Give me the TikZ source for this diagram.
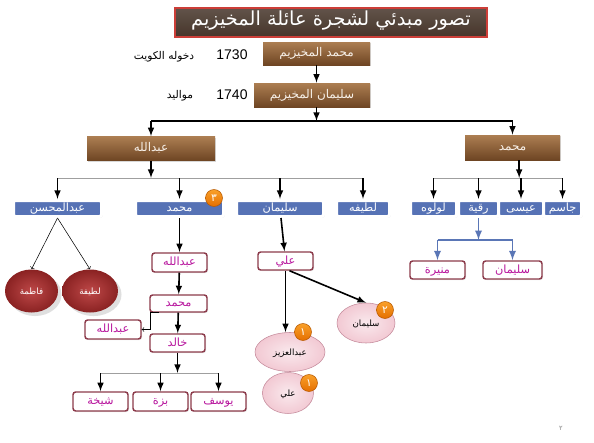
\documentclass[tikz,border=0pt]{standalone}
\usepackage{fontspec}
\setmainfont{Liberation Sans}
\newfontfamily\arabicfont[Script=Arabic]{DejaVu Sans}
\TeXXeTstate=1
\usetikzlibrary{shapes.geometric,shadows}
\newcommand{\artxt}[1]{{\arabicfont\beginR #1\endR}}
\definecolor{brownlight}{HTML}{AC7E52}
\definecolor{browndark}{HTML}{6E4523}
\definecolor{boxblue}{HTML}{5672B5}
\definecolor{namemaroon}{HTML}{8C3B4B}
\definecolor{namepink}{HTML}{B8179E}
\definecolor{ovaldark}{HTML}{8A2222}
\definecolor{ovallight}{HTML}{BE4848}
\definecolor{pinkfill}{HTML}{F2C9D3}
\definecolor{pinkedge}{HTML}{C4899A}
\definecolor{titlebg}{HTML}{46352A}
\definecolor{titleedge}{HTML}{CC3E38}
\definecolor{linkblue}{HTML}{5A76B6}
\definecolor{badgetop}{HTML}{F9A02A}
\definecolor{badgebottom}{HTML}{E56F00}

\begin{document}
\begin{tikzpicture}[x=0.75pt,y=-0.75pt]
        \tikzset{boxsize/.style 2 args={minimum width=#1*0.75pt,minimum height=#2*0.75pt}}
        \tikzset{artext/.style={text height=0.6em,text depth=0.1em}}
        \tikzset{titlebox/.style={artext,draw=titleedge,line width=0.8pt,top color=titlebg!85!white,bottom color=titlebg,inner sep=0pt,text=white,font=\fontsize{14.5}{16}\selectfont}}
        \tikzset{brownbox/.style={artext,top color=brownlight,bottom color=browndark,inner sep=0pt,text=white!88!brown,font=\fontsize{9}{11}\selectfont,drop shadow={opacity=0.3,shadow xshift=1pt,shadow yshift=-1pt}}}
        \tikzset{bluebox/.style={artext,fill=boxblue,draw=white,line width=2.25pt,rounded corners=1.5pt,inner sep=0pt,text=white,font=\fontsize{8.5}{10}\selectfont,drop shadow={opacity=0.25,shadow xshift=0.8pt,shadow yshift=-0.8pt}}}
        \tikzset{namebox/.style={artext,fill=white,draw=namemaroon,line width=1.1pt,rounded corners=2pt,inner sep=0pt,text=namepink,font=\fontsize{8.5}{10}\selectfont,drop shadow={opacity=0.2,shadow xshift=0.8pt,shadow yshift=-0.8pt}}}
        \tikzset{redoval/.style={artext,ellipse,inner sep=0pt,inner color=ovallight,outer color=ovaldark,text=white,font=\fontsize{6.5}{8}\selectfont,drop shadow={opacity=0.25}}}
        \tikzset{pinkoval/.style={artext,ellipse,inner sep=0pt,draw=pinkedge,inner color=pinkfill!40!white,outer color=pinkfill,text=black,font=\fontsize{6.5}{8}\selectfont}}
        \tikzset{badge/.style={artext,circle,inner sep=0pt,minimum size=17*0.75pt,draw=badgebottom!80!black,thin,top color=badgetop,bottom color=badgebottom,text=white,font=\fontsize{8}{9}\selectfont}}
        \tikzset{datelabel/.style={font=\fontsize{10.5}{12}\selectfont}}
        \tikzset{notelabel/.style={artext,font=\fontsize{8}{10}\selectfont}}
        \tikzset{vec/.style={draw,line width=1.2pt,-latex}}
        \tikzset{thinvec/.style={draw,thin,->}}
        \tikzset{bus/.style={draw=gray!75,thin}}
        \tikzset{bluevec/.style={draw=linkblue,line width=1.4pt,-latex}}

        \useasboundingbox (0,0) rectangle (594,443);
        \fill[white] (0,0) rectangle (594,443);

        % top of the family
        \node[titlebox,boxsize={312}{29}] (title) at (331,22.5) {\artxt{تصور مبدئي لشجرة عائلة المخيزيم}};
        \node[brownbox,boxsize={107}{23}] (n0) at (316.5,53.5) {\artxt{محمد المخيزيم}};
        \node[brownbox,boxsize={116}{24}] (n1) at (312,95) {\artxt{سليمان المخيزيم}};
        \node[datelabel] (y0) at (232,55) {1730};
        \node[notelabel] (t0) at (164,56) {\artxt{دخوله الكويت}};
        \node[datelabel] (y1) at (232,95) {1740};
        \node[notelabel] (t1) at (180,95) {\artxt{مواليد}};

        \node[brownbox,boxsize={128}{24}] (b1) at (151,148.5) {\artxt{عبدالله}};
        \node[brownbox,boxsize={95}{25}] (b2) at (512.5,147.5) {\artxt{محمد}};

        % children
        \node[bluebox,boxsize={88}{16}] (am) at (57.5,208.5) {\artxt{عبدالمحسن}};
        \node[bluebox,boxsize={88}{16}] (m1) at (179.5,208.5) {\artxt{محمد}};
        \node[bluebox,boxsize={87}{16}] (s1) at (280,208.5) {\artxt{سليمان}};
        \node[bluebox,boxsize={53}{16}] (l1) at (363,208.5) {\artxt{لطيفه}};
        \node[bluebox,boxsize={46}{16}] (lu) at (433.5,208.5) {\artxt{لولوه}};
        \node[bluebox,boxsize={40}{16}] (rq) at (478.5,208.5) {\artxt{رقية}};
        \node[bluebox,boxsize={45}{16}] (is) at (521,208.5) {\artxt{عيسى}};
        \node[bluebox,boxsize={38}{16}] (js) at (562.5,208.5) {\artxt{جاسم}};

        % grandchildren
        \node[redoval,boxsize={53}{43}] (ft) at (31.5,291) {\artxt{فاطمة}};
        \node[redoval,boxsize={56}{43}] (lt) at (90,291) {\artxt{لطيفة}};

        \node[namebox,boxsize={55}{19}] (ab2) at (179.5,262.5) {\artxt{عبدالله}};
        \node[namebox,boxsize={57}{17}] (mh2) at (178.5,303.5) {\artxt{محمد}};
        \node[namebox,boxsize={56}{19}] (ab3) at (113,329.5) {\artxt{عبدالله}};
        \node[namebox,boxsize={55}{18}] (kh) at (177.5,343) {\artxt{خالد}};
        \node[namebox,boxsize={55}{19}] (sh) at (100.5,401.5) {\artxt{شيخة}};
        \node[namebox,boxsize={55}{19}] (bz) at (160.5,401.5) {\artxt{بزة}};
        \node[namebox,boxsize={55}{19}] (ys) at (218.5,401.5) {\artxt{يوسف}};

        \node[namebox,boxsize={55}{18}] (al) at (285.5,261) {\artxt{علي}};
        \node[pinkoval,boxsize={70}{39}] (az) at (290,352) {\artxt{عبدالعزيز}};
        \node[pinkoval,boxsize={51}{41}] (al2) at (288,393) {\artxt{علي}};
        \node[pinkoval,boxsize={58}{40}] (sl3) at (366,323) {\artxt{سليمان}};

        \node[namebox,boxsize={55}{18}] (mn) at (437.5,270) {\artxt{منيرة}};
        \node[namebox,boxsize={59}{18}] (sl2) at (512.5,270) {\artxt{سليمان}};

        % counts
        \node[badge] (c1) at (214,198) {\artxt{٣}};
        \node[badge] (c2) at (303,332) {\artxt{١}};
        \node[badge] (c3) at (309,383) {\artxt{١}};
        \node[badge] (c4) at (385,310) {\artxt{٢}};

        \node[artext,text=gray,font=\fontsize{5}{6}\selectfont] (pg) at (561,427) {\artxt{٢}};

        % connectors
        \coordinate (topbus) at (316.5,121);
        \coordinate (busL) at (0,178);
        \coordinate (busR) at (0,178);
        \coordinate (busB) at (0,240);
        \coordinate (busK) at (0,373);

        \draw[vec] (n0.south) -- (n0.south |- n1.north);
        \draw[vec] (n0.south |- n1.south) -- (topbus);
        \draw[line width=1.2pt] (b1.north |- topbus) -- (b2.north |- topbus);
        \draw[vec] (b1.north |- topbus) -- (b1);
        \draw[vec] (b2.north |- topbus) -- (b2);

        \draw[vec] (b1) -- (b1 |- busL);
        \draw[bus] (am |- busL) -- (l1 |- busL);
        \foreach \k in {am,m1,s1,l1}
            \draw[vec] (\k |- busL) -- (\k);

        \draw[vec] ([xshift=5pt]b2.south) -- ([xshift=5pt]b2.south |- busR);
        \draw[bus] (lu |- busR) -- (js |- busR);
        \foreach \k in {lu,rq,is,js}
            \draw[vec] (\k |- busR) -- (\k);

        \draw[bluevec] (rq) -- (rq |- busB);
        \draw[draw=linkblue,line width=1.4pt] (mn |- busB) -- (sl2 |- busB);
        \foreach \k in {mn,sl2}
            \draw[bluevec] (\k |- busB) -- (\k);

        \draw[thinvec] (am.south) -- (ft.north);
        \draw[thinvec] (am.south) -- (lt.north);

        \draw[vec] (m1) -- (ab2);
        \draw[vec] (ab2) -- (mh2);
        \draw[vec] (mh2) -- (kh);
        \draw[thinvec] ([xshift=7.5pt]mh2.south west) -- ([xshift=0.75pt]mh2.south west) |- (ab3.east);
        \draw[vec] (kh) -- (kh |- busK);
        \draw[bus] (sh |- busK) -- (ys |- busK);
        \foreach \k in {sh,bz,ys}
            \draw[vec] (\k |- busK) -- (\k);

        \draw[vec] (s1) -- (al);
        \draw[vec] (al.south) -- (al.south |- az.north);
        \draw[vec] ([xshift=3pt]al.south) -- (sl3.north);
\end{tikzpicture}
\end{document}
